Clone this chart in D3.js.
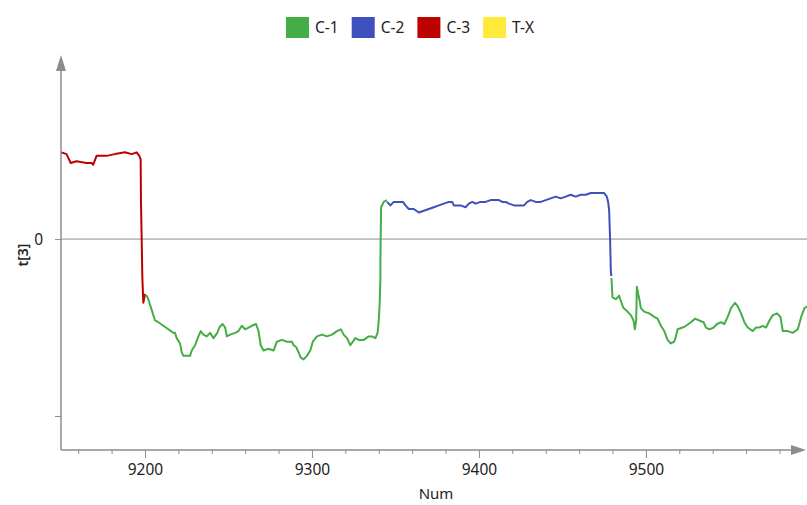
<!DOCTYPE html>
<html>
<head>
<meta charset="utf-8">
<script src="https://cdn.jsdelivr.net/npm/d3@7"></script>
<style>
  body { margin: 0; background: #fff; }
  svg { display: block; font-family: "Noto Sans", "Open Sans", sans-serif; }
</style>
</head>
<body>
<div id="chart"></div>
<script>
// legend classes
const classNames = ['C-1', 'C-2', 'C-3', 'T-X'];
const classColors = ['#45ad45', '#3d50bb', '#bf0000', '#ffe93a'];

// x ticks (labelled every 100, minor every 20)
const majorTicks = [9200, 9300, 9400, 9500];
const minorTicks = [9160, 9180, 9220, 9240, 9260, 9280, 9320, 9340, 9360, 9380,
  9420, 9440, 9460, 9480, 9520, 9540, 9560, 9580];
const yTicks = [-1, 0];

// t[3] per Num, split by class segment
const c3 = [[9150, 0.49], [9153, 0.48], [9154, 0.46], [9155.5, 0.43], [9159, 0.44],
  [9165, 0.43], [9168, 0.43], [9169, 0.42], [9171, 0.47], [9177, 0.47], [9182, 0.48],
  [9188, 0.49], [9192, 0.48], [9195, 0.49], [9196.6, 0.47], [9197.4, 0.45],
  [9197.6, 0.21], [9198, 0.01], [9198.4, -0.21], [9199, -0.36], [9200, -0.31]];

const c1a = [[9200, -0.32], [9201, -0.32], [9202, -0.34], [9203, -0.37], [9204, -0.40],
  [9205, -0.43], [9206, -0.46], [9208, -0.47], [9211, -0.49], [9214, -0.51],
  [9217, -0.53], [9218, -0.53], [9219, -0.56], [9221, -0.59], [9222, -0.64],
  [9223, -0.66], [9225, -0.66], [9227, -0.66], [9228, -0.63], [9230, -0.60],
  [9232, -0.55], [9233.4, -0.52], [9235, -0.54], [9237, -0.55], [9239, -0.53],
  [9241, -0.56], [9243.3, -0.53], [9244.5, -0.50], [9246.5, -0.48], [9248, -0.50],
  [9249, -0.55], [9251, -0.54], [9254, -0.53], [9256, -0.52], [9258, -0.49],
  [9260, -0.51], [9262, -0.50], [9264, -0.49], [9266.5, -0.48], [9268, -0.52],
  [9269.3, -0.60], [9271, -0.63], [9274, -0.62], [9277, -0.63], [9279, -0.58],
  [9282, -0.57], [9285, -0.58], [9288, -0.58], [9289, -0.60], [9290.5, -0.61],
  [9292, -0.64], [9293.3, -0.67], [9295, -0.68], [9297, -0.66], [9299, -0.63],
  [9300.5, -0.58], [9303, -0.55], [9306, -0.54], [9309, -0.55], [9312, -0.54],
  [9315, -0.52], [9317.3, -0.51], [9319, -0.54], [9321, -0.56], [9323, -0.60],
  [9324.5, -0.58], [9326, -0.56], [9328, -0.57], [9331, -0.57], [9334, -0.55],
  [9336, -0.55], [9338, -0.56], [9339.3, -0.53], [9340, -0.46], [9340.5, -0.38],
  [9341, -0.23], [9341, -0.12], [9341.4, 0.18], [9343, 0.21], [9345, 0.22]];

const c2 = [[9345, 0.21], [9347, 0.19], [9349, 0.21], [9352, 0.21], [9354.5, 0.21],
  [9356, 0.19], [9358, 0.17], [9361, 0.17], [9364, 0.15], [9367, 0.16], [9370, 0.17],
  [9373, 0.18], [9376, 0.19], [9379, 0.20], [9382, 0.21], [9384, 0.21], [9385, 0.19],
  [9389, 0.19], [9392, 0.18], [9394, 0.20], [9396, 0.21], [9398, 0.20], [9401, 0.21],
  [9404, 0.21], [9407, 0.22], [9410, 0.22], [9412, 0.22], [9414, 0.21], [9416, 0.21],
  [9418, 0.20], [9421, 0.19], [9424, 0.19], [9427, 0.19], [9429, 0.21], [9431, 0.22],
  [9434, 0.21], [9437, 0.21], [9440, 0.22], [9443, 0.23], [9446, 0.24], [9449, 0.23],
  [9452, 0.24], [9455, 0.25], [9458, 0.24], [9461, 0.25], [9464, 0.25], [9467, 0.26],
  [9470, 0.26], [9473, 0.26], [9475, 0.26], [9476.6, 0.24], [9477.4, 0.21],
  [9478, 0.16], [9478.6, -0.01], [9479, -0.18], [9479.3, -0.21]];

const c1b = [[9479.4, -0.22], [9480, -0.33], [9482, -0.34], [9484, -0.32], [9485, -0.35],
  [9486.6, -0.39], [9489, -0.41], [9491, -0.43], [9492.6, -0.46], [9493.4, -0.51],
  [9494.2, -0.46], [9494.6, -0.27], [9495.4, -0.31], [9496.3, -0.35], [9497, -0.39],
  [9499, -0.41], [9502, -0.42], [9505, -0.44], [9507, -0.45], [9509, -0.49],
  [9511, -0.52], [9513, -0.57], [9515, -0.59], [9517, -0.58], [9518, -0.55],
  [9519, -0.51], [9522, -0.50], [9524, -0.49], [9527, -0.47], [9529.4, -0.45],
  [9532, -0.46], [9534.6, -0.47], [9536, -0.50], [9538, -0.51], [9540.6, -0.50],
  [9542.6, -0.48], [9545, -0.47], [9547, -0.48], [9549, -0.44], [9551, -0.39],
  [9553.4, -0.36], [9555, -0.38], [9557, -0.42], [9559, -0.47], [9561, -0.50],
  [9564, -0.52], [9566, -0.50], [9568, -0.50], [9570, -0.49], [9572, -0.50],
  [9574, -0.46], [9576, -0.43], [9578.6, -0.42], [9580.6, -0.44], [9582, -0.52],
  [9585, -0.52], [9588, -0.53], [9591, -0.51], [9593, -0.44], [9595, -0.39],
  [9597, -0.38]];

const W = 807, H = 505;
const plotLeft = 61, plotRight = 807, plotTop = 55, plotBottom = 450;
const axisColor = '#8c8c8c';
const textColor = '#222';

const svg = d3.select('#chart').append('svg')
  .attr('width', W)
  .attr('height', H);

const x = d3.scaleLinear().domain([9150, 9596.5]).range([61.5, 807]);
const y = d3.scaleLinear().domain([-1.192, 1.04]).range([plotBottom, plotTop]);

// zero line
svg.append('line')
  .attr('x1', plotLeft).attr('x2', plotRight)
  .attr('y1', y(0)).attr('y2', y(0))
  .attr('stroke', axisColor).attr('stroke-width', 1);

// x axis: minor then major ticks
const gxMinor = svg.append('g')
  .attr('transform', `translate(0,${plotBottom})`)
  .call(d3.axisBottom(x).tickValues(minorTicks).tickSize(4).tickFormat(''));
gxMinor.select('.domain').remove();

const gx = svg.append('g')
  .attr('transform', `translate(0,${plotBottom})`)
  .call(d3.axisBottom(x).tickValues(majorTicks).tickSize(8).tickPadding(6).tickFormat(d3.format('d')));
gx.select('.domain').remove();

svg.selectAll('.tick line').attr('stroke', axisColor);
gx.selectAll('.tick text')
  .attr('fill', textColor)
  .style('font-size', '15.5px')
  .style('font-family', '"Noto Sans", sans-serif');

// y axis
const gy = svg.append('g')
  .attr('transform', `translate(${plotLeft},0)`)
  .call(d3.axisLeft(y).tickValues(yTicks).tickSize(6).tickPadding(12)
    .tickFormat((d) => (d === 0 ? '0' : '')));
gy.select('.domain').remove();
gy.selectAll('.tick line').attr('stroke', axisColor);
gy.selectAll('.tick text')
  .attr('fill', textColor)
  .style('font-size', '15.5px')
  .style('font-family', '"Noto Sans", sans-serif');

// axis lines with arrow heads
svg.append('line')
  .attr('x1', plotLeft).attr('x2', plotLeft)
  .attr('y1', plotBottom).attr('y2', plotTop + 10)
  .attr('stroke', axisColor).attr('stroke-width', 1.5);
svg.append('path')
  .attr('d', `M${plotLeft},${plotTop} L${plotLeft - 5},${plotTop + 16} L${plotLeft + 5},${plotTop + 16} Z`)
  .attr('fill', axisColor);

svg.append('line')
  .attr('x1', plotLeft).attr('x2', plotRight - 10)
  .attr('y1', plotBottom).attr('y2', plotBottom)
  .attr('stroke', axisColor).attr('stroke-width', 1.5);
svg.append('path')
  .attr('d', `M${plotRight - 1},${plotBottom} L${plotRight - 16},${plotBottom - 5} L${plotRight - 16},${plotBottom + 5} Z`)
  .attr('fill', axisColor);

// data lines
svg.append('clipPath').attr('id', 'plot-clip')
  .append('rect')
  .attr('x', plotLeft).attr('y', plotTop)
  .attr('width', plotRight - plotLeft).attr('height', plotBottom - plotTop);

const line = d3.line()
  .x((d) => x(d[0]))
  .y((d) => y(d[1]));

const segments = [
  { data: c3, color: classColors[2] },
  { data: c1a, color: classColors[0] },
  { data: c2, color: classColors[1] },
  { data: c1b, color: classColors[0] },
];

svg.append('g')
  .attr('clip-path', 'url(#plot-clip)')
  .selectAll('path')
  .data(segments)
  .join('path')
  .attr('d', (d) => line(d.data))
  .attr('fill', 'none')
  .attr('stroke', (d) => d.color)
  .attr('stroke-width', 2)
  .attr('stroke-linejoin', 'round');

// axis titles
svg.append('text')
  .attr('x', 436)
  .attr('y', 499)
  .attr('text-anchor', 'middle')
  .attr('fill', textColor)
  .style('font-size', '15px')
  .text('Num');

svg.append('text')
  .attr('transform', 'translate(28,255) rotate(-90)')
  .attr('text-anchor', 'middle')
  .attr('fill', textColor)
  .style('font-size', '14px')
  .style('font-weight', 600)
  .text('t[3]');

// legend
const legend = svg.append('g')
  .selectAll('g')
  .data(classNames)
  .join('g')
  .attr('transform', (d, i) => `translate(${286 + i * 65.7},17)`);

legend.append('rect')
  .attr('width', 23)
  .attr('height', 21)
  .attr('fill', (d, i) => classColors[i]);

legend.append('text')
  .attr('x', 29)
  .attr('y', 11)
  .attr('dy', '0.35em')
  .attr('fill', textColor)
  .style('font-size', '15.5px')
  .text((d) => d);
</script>
</body>
</html>
